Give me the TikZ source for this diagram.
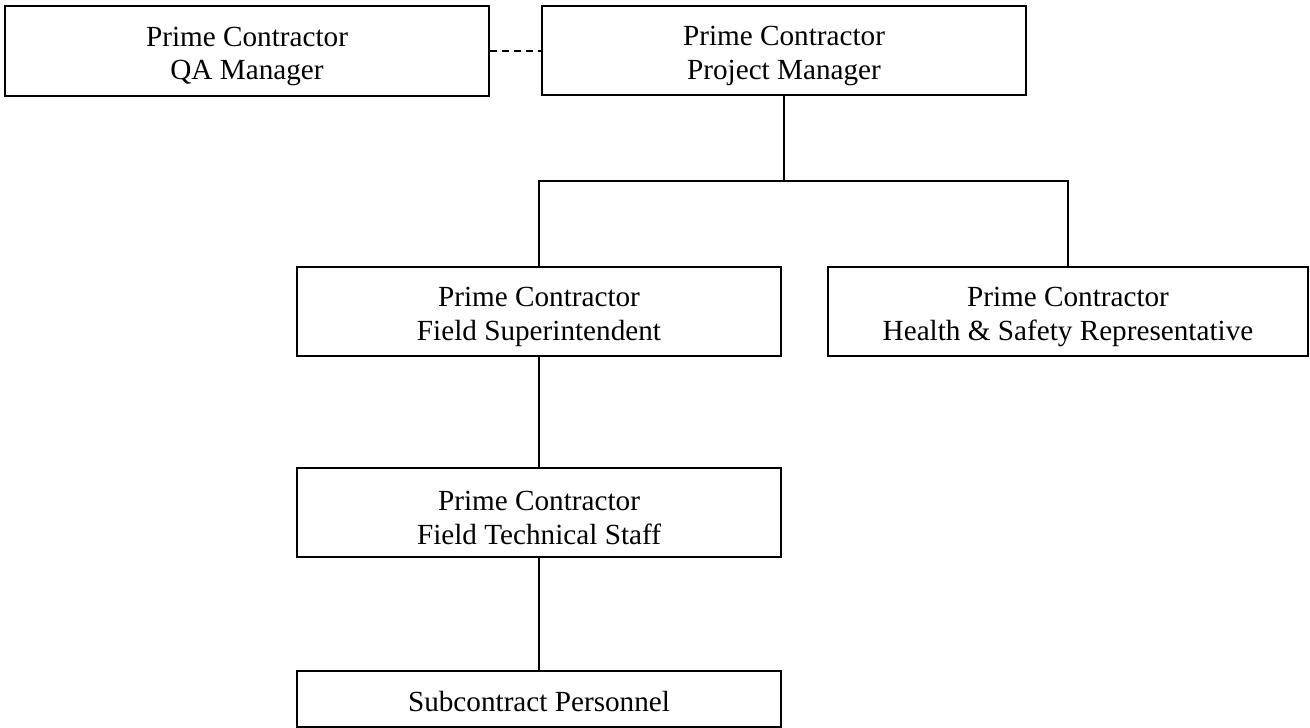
\documentclass[tikz,border=0pt]{standalone}
\usepackage{fontspec}
\setmainfont{Liberation Serif}
\begin{document}
\begin{tikzpicture}[x=1pt,y=-1pt,
  box/.style={draw,line width=1.5pt,rectangle,inner sep=0pt},
  lbl/.style={inner sep=0pt,align=center,font=\fontsize{29.2}{33.3}\selectfont},
  conn/.style={line width=1.6pt},
  dashconn/.style={line width=1.5pt,dash pattern=on 7pt off 5pt}]
\useasboundingbox (0,0) rectangle (1310,728);
\node[box,minimum width=484pt,minimum height=90pt] (qa) at (247,51) {};
\node[box,minimum width=484pt,minimum height=89pt] (pm) at (784,50.5) {};
\node[box,minimum width=484pt,minimum height=89pt] (fs) at (539,311.5) {};
\node[box,minimum width=480pt,minimum height=89pt] (hs) at (1068,311.5) {};
\node[box,minimum width=484pt,minimum height=89pt] (ft) at (539,512.5) {};
\node[box,minimum width=484pt,minimum height=56pt] (sub) at (539,699) {};
\node[lbl] (qat) at ([yshift=-5.5pt]qa.center) {Prime Contractor\\QA Manager};
\node[lbl] (pmt) at ([yshift=-5.5pt]pm.center) {Prime Contractor\\Project Manager};
\node[lbl] (fst) at ([yshift=-5.5pt]fs.center) {Prime Contractor\\Field Superintendent};
\node[lbl] (hst) at ([yshift=-5.5pt]hs.center) {Prime Contractor\\Health \& Safety Representative};
\node[lbl] (ftt) at ([yshift=-5.5pt]ft.center) {Prime Contractor\\Field Technical Staff};
\node[lbl] (subt) at ([yshift=-3pt]sub.center) {Subcontract Personnel};
\coordinate (br) at (784,181);
\draw[dashconn] (qa.east) -- (qa.east -| pm.west);
\draw[conn] (pm.south) -- (br);
\draw[conn] (br) -| (fs.north);
\draw[conn] (br) -| (hs.north);
\draw[conn] (fs.south) -- (ft.north);
\draw[conn] (ft.south) -- (sub.north);
\end{tikzpicture}
\end{document}
